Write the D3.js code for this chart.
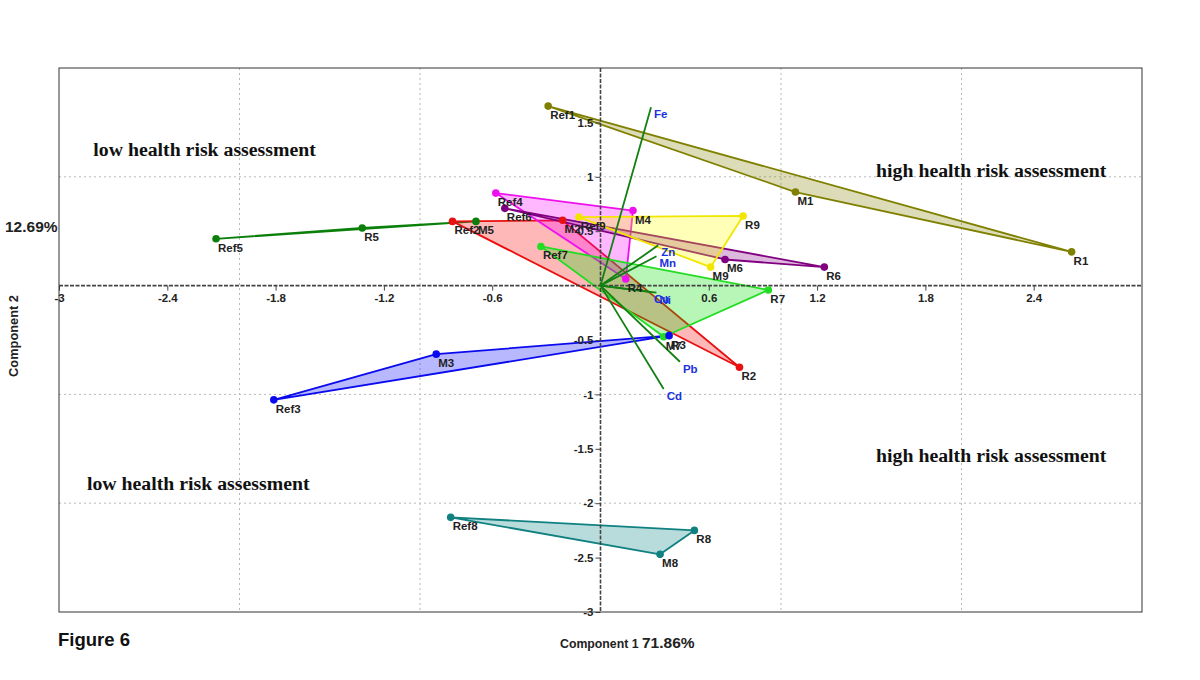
<!DOCTYPE html>
<html><head><meta charset="utf-8">
<script src="https://cdn.jsdelivr.net/npm/d3@7"></script>
<style>body{margin:0;background:#fff}svg{display:block}</style>
</head><body>
<svg id="c" width="1200" height="680"></svg>
<script>
// ---- data ----
const groupNames = ["G1","G2","G3","G4","G5","G6","G7","G8","G9"];
const groupColors = ["#808000","#ff0000","#0000ff","#ff00ff","#008000","#800080","#00e000","#008080","#ffff00"];
const groupStroke = ["#808000","#e81010","#0a0aee","#ee10ee","#0a800a","#800080","#22dd22","#108080","#f2e600"];
const sampleNames = [
  ["Ref1","M1","R1"],["Ref2","M2","R2"],["Ref3","M3","R3"],
  ["Ref4","M4","R4"],["Ref5","R5","M5"],["Ref6","M6","R6"],
  ["Ref7","M7","R7"],["Ref8","M8","R8"],["Ref9","M9","R9"]];
const comp1 = [
  [-0.29,1.08,2.61],[-0.82,-0.21,0.77],[-1.81,-0.91,0.38],
  [-0.58,0.18,0.14],[-2.13,-1.32,-0.69],[-0.53,0.69,1.24],
  [-0.33,0.35,0.93],[-0.83,0.33,0.52],[-0.12,0.61,0.79]];
const comp2 = [
  [1.65,0.86,0.31],[0.59,0.60,-0.75],[-1.05,-0.63,-0.46],
  [0.85,0.69,0.06],[0.43,0.53,0.59],[0.71,0.24,0.17],
  [0.36,-0.47,-0.04],[-2.13,-2.47,-2.25],[0.63,0.17,0.64]];
const loadingNames = ["Fe","Zn","Mn","Cu","Ni","Pb","Cd"];
const loadX = [0.28,0.32,0.31,0.28,0.31,0.44,0.35];
const loadY = [1.64,0.37,0.27,-0.06,-0.065,-0.70,-0.95];
const xTicks = [-3,-2.4,-1.8,-1.2,-0.6,0.6,1.2,1.8,2.4];
const yTicks = [1.5,1,0.5,-0.5,-1,-1.5,-2,-2.5,-3];
const gridX = [-2,-1,1,2];
const gridY = [1,-1,-2];
const annotations = ["low health risk assessment","high health risk assessment","high health risk assessment","low health risk assessment"];
const annotX = [-2.81,1.527,1.527,-2.845];
const annotY = [1.19,1.0,-1.62,-1.875];

// ---- chart ----
const svg = d3.select("#c");
const x = d3.scaleLinear().domain([-3,3]).range([59,1142]);
const y = d3.scaleLinear().domain([-3,2]).range([612,68]);
const X0 = x(0), Y0 = y(0);
const SANS = "Liberation Sans, Arial, sans-serif";

// grid
svg.append("g").selectAll("line").data(gridX).join("line")
  .attr("x1",d=>x(d)).attr("x2",d=>x(d)).attr("y1",y(2)).attr("y2",y(-3))
  .attr("stroke","#b8b8b8").attr("stroke-width",1).attr("stroke-dasharray","2,3");
svg.append("g").selectAll("line").data(gridY).join("line")
  .attr("y1",d=>y(d)).attr("y2",d=>y(d)).attr("x1",x(-3)).attr("x2",x(3))
  .attr("stroke","#b8b8b8").attr("stroke-width",1).attr("stroke-dasharray","2,3");

// polygons
const gPoly = svg.append("g");
const order = [0,4,1,3,5,8,6,2,7];
order.forEach(i=>{
  const pts = comp1[i].map((v,j)=>[x(v), y(comp2[i][j])]);
  gPoly.append("polygon")
    .attr("points", pts.map(p=>p.join(",")).join(" "))
    .attr("fill", groupColors[i]).attr("fill-opacity",0.28)
    .attr("stroke", groupStroke[i]).attr("stroke-width",1.8)
    .attr("stroke-linejoin","round");
});

// axes through origin
svg.append("line").attr("x1",x(-3)).attr("x2",x(3)).attr("y1",Y0).attr("y2",Y0)
  .attr("stroke","#444").attr("stroke-width",1.6).attr("stroke-dasharray","4,1.5");
svg.append("line").attr("x1",X0).attr("x2",X0).attr("y1",y(2)).attr("y2",y(-3))
  .attr("stroke","#444").attr("stroke-width",1.6).attr("stroke-dasharray","4,1.5");

const xAxis = d3.axisBottom(x).tickValues(xTicks).tickSize(5).tickPadding(3)
  .tickFormat(d=>String(d));
const gx = svg.append("g").attr("transform",`translate(0,${Y0})`).call(xAxis);
gx.select(".domain").remove();
gx.selectAll("text").attr("font-family",SANS)
  .attr("font-weight","bold").attr("font-size",11.5).attr("fill","#222");
gx.selectAll("line").attr("stroke","#444");

const yAxis = d3.axisLeft(y).tickValues(yTicks).tickSize(5).tickPadding(2)
  .tickFormat(d=>String(d));
const gy = svg.append("g").attr("transform",`translate(${X0},0)`).call(yAxis);
gy.select(".domain").remove();
gy.selectAll("text").attr("font-family",SANS)
  .attr("font-weight","bold").attr("font-size",11.5).attr("fill","#222");
gy.selectAll("line").attr("stroke","#444");

// loadings
const gL = svg.append("g");
loadingNames.forEach((n,i)=>{
  gL.append("line").attr("x1",X0).attr("y1",Y0).attr("x2",x(loadX[i])).attr("y2",y(loadY[i]))
    .attr("stroke","#138013").attr("stroke-width",1.8);
});
loadingNames.forEach((n,i)=>{
  gL.append("text").attr("x",x(loadX[i])+3).attr("y",y(loadY[i])+11)
    .attr("font-family",SANS).attr("font-weight","bold")
    .attr("font-size",11.5).attr("fill","#2030dd").text(n);
});

// points & labels
const gP = svg.append("g");
order.forEach(i=>{
  comp1[i].forEach((v,j)=>{
    gP.append("circle").attr("cx",x(v)).attr("cy",y(comp2[i][j])).attr("r",3.8)
      .attr("fill",groupStroke[i]);
  });
});
order.forEach(i=>{
  comp1[i].forEach((v,j)=>{
    gP.append("text").attr("x",x(v)+2).attr("y",y(comp2[i][j])+13)
      .attr("font-family",SANS).attr("font-weight","bold")
      .attr("font-size",11.5).attr("fill","#222").text(sampleNames[i][j]);
  });
});

// frame
svg.append("rect").attr("x",x(-3)).attr("y",y(2)).attr("width",x(3)-x(-3)).attr("height",y(-3)-y(2))
  .attr("fill","none").attr("stroke","#333").attr("stroke-width",1);

// annotations
svg.append("g").selectAll("text").data(annotations).join("text")
  .attr("x",(d,i)=>x(annotX[i])).attr("y",(d,i)=>y(annotY[i]))
  .attr("font-family","Liberation Serif, Times New Roman, serif").attr("font-weight","bold")
  .attr("font-size",19.8).attr("fill","#111").text(d=>d);

// axis titles
const t1 = svg.append("text").attr("x",560).attr("y",648)
  .attr("font-family",SANS).attr("font-weight","bold").attr("fill","#222");
t1.append("tspan").attr("font-size",12.3).text("Component 1 ");
t1.append("tspan").attr("font-size",15.5).text("71.86%");
svg.append("text").attr("transform","translate(18,336) rotate(-90)").attr("text-anchor","middle")
  .attr("font-family",SANS).attr("font-weight","bold")
  .attr("font-size",12.8).attr("fill","#222").text("Component 2");
svg.append("text").attr("x",5).attr("y",232)
  .attr("font-family",SANS).attr("font-weight","bold")
  .attr("font-size",15.5).attr("fill","#222").text("12.69%");
svg.append("text").attr("x",58).attr("y",646)
  .attr("font-family",SANS).attr("font-weight","bold")
  .attr("font-size",18.5).attr("fill","#111").text("Figure 6");
</script>
</body></html>
